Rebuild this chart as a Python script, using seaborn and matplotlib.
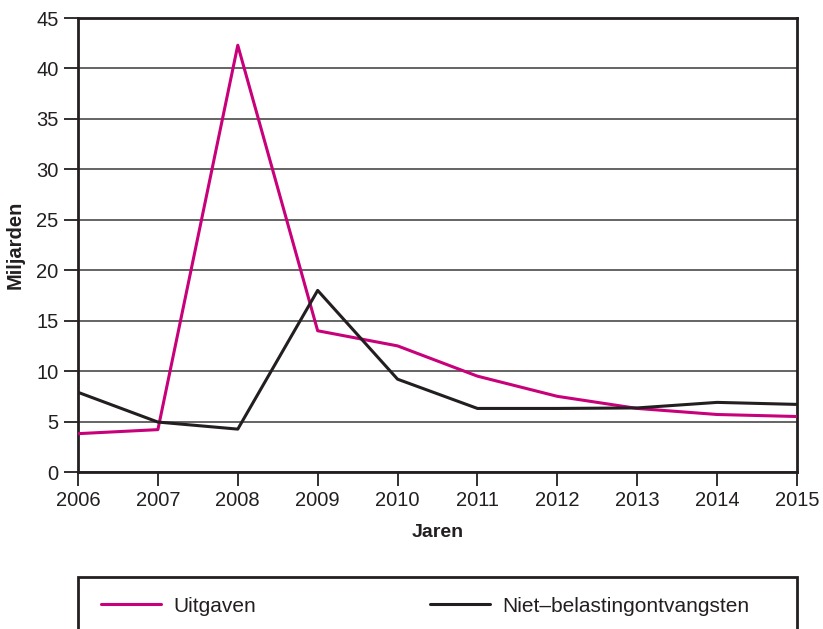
import pandas as pd
import matplotlib.pyplot as plt
import seaborn as sns
from matplotlib.patches import Rectangle

# ------ DATA ------ #
years = [2006, 2007, 2008, 2009, 2010, 2011, 2012, 2013, 2014, 2015]
uitgaven = [3.8, 4.2, 42.3, 14.0, 12.5, 9.5, 7.5, 6.3, 5.7, 5.5]
niet_belasting = [7.9, 4.95, 4.25, 18.0, 9.2, 6.3, 6.3, 6.35, 6.9, 6.7]
series_names = ["Uitgaven", "Niet\u2013belastingontvangsten"]
y_ticks = [0, 5, 10, 15, 20, 25, 30, 35, 40, 45]

df = pd.DataFrame({
    "Jaren": years * 2,
    "Miljarden": uitgaven + niet_belasting,
    "serie": [series_names[0]] * len(years) + [series_names[1]] * len(years),
})

colors = {series_names[0]: "#C8007A", series_names[1]: "#231F20"}

# ------ PLOT ------ #
sns.set_style("white")
plt.rcParams['font.family'] = ['Liberation Sans', 'DejaVu Sans']

fig = plt.figure(figsize=(8.23, 6.29), dpi=100)
ax = fig.add_axes([78 / 823, 1 - 472 / 629, (797 - 78) / 823, (472 - 18) / 629])

sns.lineplot(data=df, x="Jaren", y="Miljarden", hue="serie", palette=colors,
             linewidth=2.2, ax=ax, zorder=3)

ax.set_xlim(2006, 2015)
ax.set_ylim(0, 45)
ax.set_xticks(years)
ax.set_yticks(y_ticks)
ax.yaxis.grid(True, color="#3a3a3a", linewidth=1.1)
ax.set_axisbelow(True)

for s in ax.spines.values():
    s.set_color("#231F20")
    s.set_linewidth(2)

ax.tick_params(axis="both", bottom=True, left=True, direction="out", length=10,
               width=1.3, color="#231F20", labelsize=14.5, labelcolor="#231F20", pad=4)

ax.set_xlabel("Jaren", fontsize=14, fontweight="bold", color="#231F20", labelpad=10)
ax.set_ylabel("Miljarden", fontsize=14.5, fontweight="bold", color="#231F20", labelpad=8)

# ------ LEGEND ------ #
handles, labels = ax.get_legend_handles_labels()
ax.get_legend().remove()

fig.patches.append(Rectangle((78 / 823, -0.05), (797 - 78) / 823, 0.05 + (629 - 577) / 629,
                             transform=fig.transFigure, fill=False,
                             edgecolor="#231F20", linewidth=2))

fig.legend(handles[:1], labels[:1], loc="center left",
           bbox_to_anchor=(82 / 823, 1 - 606 / 629), frameon=False,
           fontsize=15, handlelength=2.9, handletextpad=0.6, labelcolor="#231F20")
fig.legend(handles[1:], labels[1:], loc="center left",
           bbox_to_anchor=(411 / 823, 1 - 606 / 629), frameon=False,
           fontsize=15, handlelength=2.9, handletextpad=0.6, labelcolor="#231F20")

fig.savefig("out.png", dpi=100)
